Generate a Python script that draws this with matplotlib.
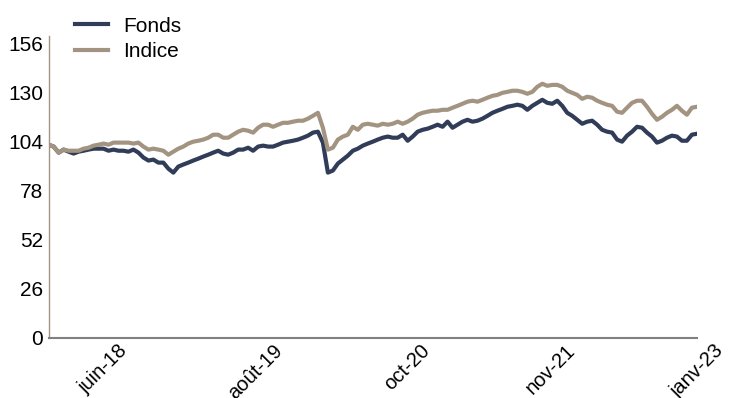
import numpy as np
import pandas as pd
import matplotlib
matplotlib.use('Agg')
import matplotlib.pyplot as plt

# Données (lecture du graphique, pas de 2 semaines)
start_date = '2018-01-12'
fonds = [102.4, 101.4, 98.2, 99.8, 98.7, 97.7, 98.7, 99.2, 99.8, 100.3,
         100.3, 100.3, 99.2, 99.8, 99.2, 99.2, 98.7, 99.8, 98.2, 95.6,
         94.0, 94.5, 92.9, 92.9, 89.7, 87.6, 90.8, 91.9, 92.9, 94.0,
         95.0, 96.1, 97.1, 98.2, 99.2, 97.7, 97.1, 98.2, 99.8, 99.8,
         100.8, 99.2, 101.4, 101.9, 101.4, 101.4, 102.4, 103.5, 104.0, 104.5,
         105.1, 106.1, 107.2, 108.8, 109.3, 103.5, 87.6, 88.7, 92.4, 94.5,
         96.6, 99.2, 100.3, 101.9, 103.0, 104.0, 105.1, 106.1, 106.7, 106.1,
         106.1, 107.7, 104.5, 106.7, 109.3, 110.3, 110.9, 111.9, 113.0, 111.9,
         114.6, 111.4, 113.0, 114.6, 115.6, 114.6, 115.1, 116.2, 117.7, 119.3,
         120.4, 121.4, 122.5, 123.0, 123.6, 123.0, 120.9, 123.0, 124.6, 126.2,
         124.6, 124.1, 125.7, 123.0, 119.3, 117.7, 115.6, 113.5, 114.6, 115.1,
         113.0, 110.3, 109.3, 108.8, 105.1, 104.0, 107.2, 109.3, 111.9, 111.4,
         108.8, 106.7, 103.5, 104.5, 106.1, 107.2, 106.7, 104.5, 104.5, 107.7,
         108.2]
indice = [102.4, 101.4, 98.2, 99.8, 99.2, 99.2, 99.2, 100.3, 100.8, 101.9,
          102.4, 103.0, 102.4, 103.5, 103.5, 103.5, 103.5, 103.0, 103.5, 101.4,
          99.8, 100.3, 99.8, 99.2, 97.1, 98.7, 100.3, 101.4, 103.0, 104.0,
          104.5, 105.1, 106.1, 107.7, 107.7, 106.1, 106.1, 107.7, 109.3, 110.3,
          109.8, 108.8, 111.4, 113.0, 113.0, 111.9, 113.0, 114.0, 114.0, 114.6,
          115.1, 115.1, 116.2, 117.7, 119.3, 111.4, 99.8, 100.8, 105.1, 106.7,
          107.7, 111.9, 110.3, 113.0, 113.5, 113.0, 112.5, 113.5, 113.0, 113.5,
          114.6, 113.5, 114.6, 116.2, 118.3, 119.3, 119.9, 120.4, 120.4, 120.9,
          120.9, 122.0, 123.0, 124.1, 125.2, 125.7, 125.2, 126.2, 127.3, 128.3,
          128.8, 129.9, 130.4, 131.0, 131.0, 130.4, 129.4, 130.4, 133.1, 134.7,
          133.6, 134.1, 134.1, 133.1, 131.0, 129.9, 128.8, 126.7, 127.8, 127.3,
          125.7, 124.6, 123.6, 123.0, 119.9, 119.3, 122.0, 124.6, 125.7, 125.7,
          122.5, 118.8, 115.6, 117.2, 119.3, 120.9, 123.0, 120.4, 118.3, 122.0,
          122.5]
tick_dates = ['2018-06-15', '2019-08-15', '2020-10-15', '2021-11-20', '2023-01-06']
tick_labels = ['juin-18', 'août-19', 'oct-20', 'nov-21', 'janv-23']
y_ticks = [0, 26, 52, 78, 104, 130, 156]

dates = pd.date_range(start_date, periods=len(fonds), freq='14D')

plt.rcParams['font.family'] = ['Liberation Sans', 'DejaVu Sans']

fig = plt.figure(figsize=(7.32, 3.98), dpi=100)
ax = fig.add_axes([0.0665, 0.151, 0.8855, 0.7585])

ax.plot(dates, fonds, color='#313D58', lw=3, label='Fonds')
ax.plot(dates, indice, color='#A39482', lw=3, label='Indice')

ax.set_xlim(dates[0], dates[-1])
ax.set_ylim(0, 160)
ax.set_yticks(y_ticks)
ax.set_xticks(pd.to_datetime(tick_dates))
ax.set_xticklabels(tick_labels, rotation=45, ha='center')
ax.tick_params(axis='y', length=0, labelsize=15, pad=4)
ax.tick_params(axis='x', length=0, labelsize=14.5, pad=2)

for s in ['top', 'right']:
    ax.spines[s].set_visible(False)
ax.spines['left'].set_color('#A39482')
ax.spines['left'].set_linewidth(1)
ax.spines['bottom'].set_color('#808080')
ax.spines['bottom'].set_linewidth(1.5)

fig.legend(loc='upper left', bbox_to_anchor=(0.083, 0.995), frameon=False,
           fontsize=15, handlelength=1.55, handletextpad=0.75,
           labelspacing=0.3, borderaxespad=0.3)

fig.savefig('out.png', dpi=100)
